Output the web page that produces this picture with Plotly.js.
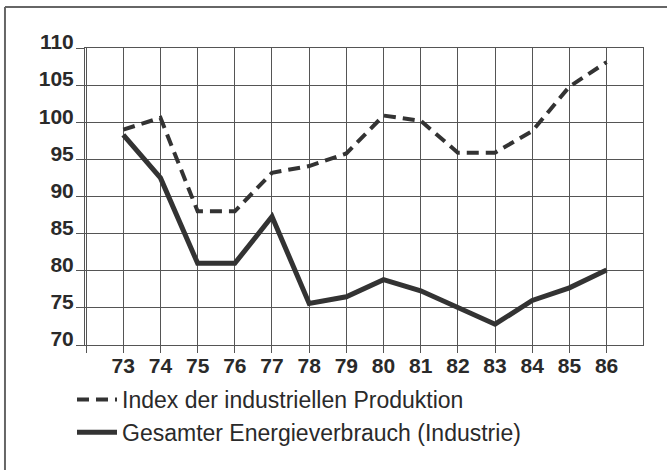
<!DOCTYPE html>
<html>
<head>
<meta charset="utf-8">
<script src="https://cdn.plot.ly/plotly-3.0.1.min.js"></script>
<style>
html,body{margin:0;padding:0;background:#fff;}
#chart{width:667px;height:470px;}
</style>
</head>
<body>
<div id="chart"></div>
<script>
var years = [73, 74, 75, 76, 77, 78, 79, 80, 81, 82, 83, 84, 85, 86];
var produktion = [99, 100.6, 88, 88, 93.2, 94.1, 95.8, 100.9, 100.2, 95.9, 95.9, 98.8, 104.8, 108.1];
var energie = [98.3, 92.5, 81, 81, 87.3, 75.6, 76.5, 78.8, 77.3, 75.0, 72.8, 76.0, 77.7, 80.1];
var xTickVals = [72, 73, 74, 75, 76, 77, 78, 79, 80, 81, 82, 83, 84, 85, 86, 87];
var xTickText = ['', '73', '74', '75', '76', '77', '78', '79', '80', '81', '82', '83', '84', '85', '86', ''];
var yTickVals = [70, 75, 80, 85, 90, 95, 100, 105, 110];
var seriesNames = ['Index der industriellen Produktion', 'Gesamter Energieverbrauch (Industrie)'];

var ink = '#333333';
var traces = [
  {x: years, y: produktion, type: 'scatter', mode: 'lines', name: seriesNames[0],
   legendgroup: 'a', line: {color: ink, width: 4, dash: '12px,7px'}},
  {x: years, y: energie, type: 'scatter', mode: 'lines', name: seriesNames[1],
   legendgroup: 'b', line: {color: ink, width: 5}}
];

var layout = {
  width: 667, height: 470,
  margin: {l: 85, r: 24, t: 48, b: 125, pad: 0},
  paper_bgcolor: '#fff', plot_bgcolor: '#fff',
  font: {family: 'Liberation Sans, Arial, sans-serif', color: '#2a2a2a'},
  xaxis: {
    range: [71.97, 86.98], tickmode: 'array', tickvals: xTickVals, ticktext: xTickText,
    showgrid: true, gridcolor: '#555', gridwidth: 1,
    showline: true, linecolor: '#555', linewidth: 1, mirror: true,
    ticks: 'outside', ticklen: 7, tickcolor: '#555', tickwidth: 1,
    tickfont: {size: 21, weight: 'bold', color: '#2a2a2a'},
    ticklabelstandoff: -5, zeroline: false, fixedrange: true
  },
  yaxis: {
    range: [70, 110], tickmode: 'array', tickvals: yTickVals,
    showgrid: true, gridcolor: '#555', gridwidth: 1,
    showline: true, linecolor: '#555', linewidth: 1, mirror: true,
    ticks: 'outside', ticklen: 8, tickcolor: '#555', tickwidth: 1,
    tickfont: {size: 21, weight: 'bold', color: '#2a2a2a'},
    ticklabelshift: -6, ticklabelstandoff: -2, zeroline: false, fixedrange: true
  },
  showlegend: true,
  legend: {
    x: -0.0233, xanchor: 'left', y: -0.111, yanchor: 'top',
    font: {size: 23, color: '#2a2a2a'}, itemwidth: 40, tracegroupgap: 8,
    bgcolor: 'rgba(0,0,0,0)', borderwidth: 0, traceorder: 'normal'
  },
  shapes: [
    {type: 'line', xref: 'paper', yref: 'paper', x0: -0.1434, x1: 1.05, y0: 1.138, y1: 1.138,
     line: {color: '#666', width: 2}},
    {type: 'line', xref: 'paper', yref: 'paper', x0: -0.1434, x1: -0.1434, y0: 1.138, y1: -0.45,
     line: {color: '#666', width: 2}}
  ]
};

Plotly.newPlot('chart', traces, layout, {staticPlot: true, displayModeBar: false});
</script>
</body>
</html>
